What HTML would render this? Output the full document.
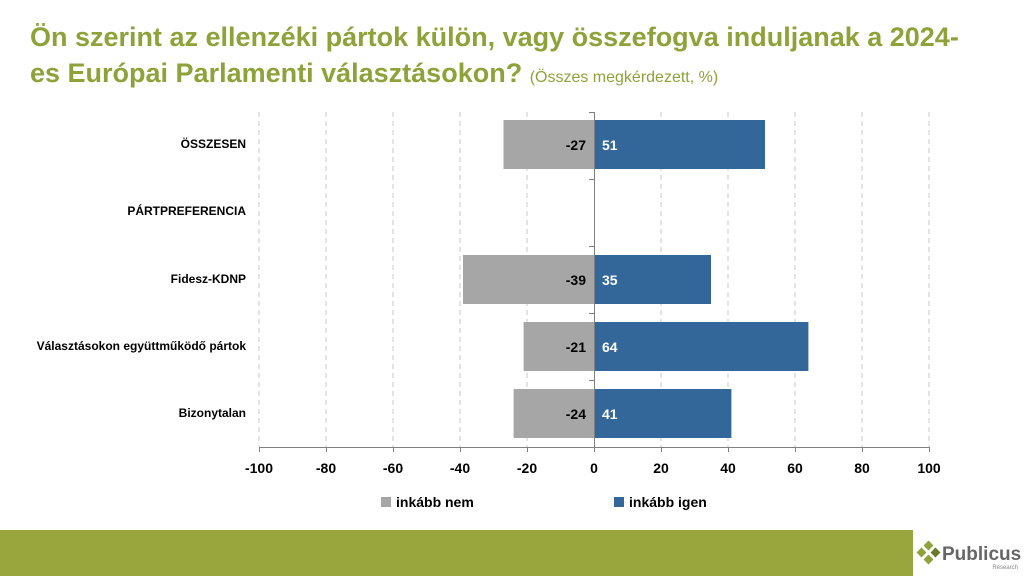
<!DOCTYPE html>
<html><head><meta charset="utf-8"><style>
body{margin:0;width:1024px;height:576px;overflow:hidden;background:#fff;font-family:"Liberation Sans",Arial,sans-serif;}
</style></head><body>
<svg width="1024" height="576" xmlns="http://www.w3.org/2000/svg" font-family="Liberation Sans, Arial, sans-serif">
<text x="30" y="46" font-size="27" font-weight="bold" fill="#8fa23a">Ön szerint az ellenzéki pártok külön, vagy összefogva induljanak a 2024-</text>
<text x="30" y="82" font-size="27" font-weight="bold" fill="#8fa23a">es Európai Parlamenti választásokon? <tspan font-size="16" font-weight="normal">(Összes megkérdezett, %)</tspan></text>
<g stroke="#c8c8c8" stroke-dasharray="5,4" stroke-width="1">
<line x1="259" y1="112" x2="259" y2="447"/><line x1="326" y1="112" x2="326" y2="447"/><line x1="393" y1="112" x2="393" y2="447"/><line x1="460" y1="112" x2="460" y2="447"/><line x1="527" y1="112" x2="527" y2="447"/><line x1="661" y1="112" x2="661" y2="447"/><line x1="728" y1="112" x2="728" y2="447"/><line x1="795" y1="112" x2="795" y2="447"/><line x1="862" y1="112" x2="862" y2="447"/><line x1="929" y1="112" x2="929" y2="447"/>
</g>
<g>
<rect x="503.5" y="120" width="90.5" height="49" fill="#a6a6a6"/><rect x="594" y="120" width="171" height="49" fill="#336699"/>
<rect x="463" y="255" width="131" height="49" fill="#a6a6a6"/><rect x="594" y="255" width="117" height="49" fill="#336699"/>
<rect x="523.6" y="322" width="70.4" height="49" fill="#a6a6a6"/><rect x="594" y="322" width="214.4" height="49" fill="#336699"/>
<rect x="513.6" y="389" width="80.4" height="49" fill="#a6a6a6"/><rect x="594" y="389" width="137.4" height="49" fill="#336699"/>
</g>
<g stroke="#808080" stroke-width="1">
<line x1="594.5" y1="112" x2="594.5" y2="447"/><line x1="259" y1="447.5" x2="929" y2="447.5"/>
<line x1="589" y1="112.5" x2="594" y2="112.5"/><line x1="589" y1="179.5" x2="594" y2="179.5"/><line x1="589" y1="246.5" x2="594" y2="246.5"/><line x1="589" y1="313.5" x2="594" y2="313.5"/><line x1="589" y1="380.5" x2="594" y2="380.5"/>
<line x1="259.5" y1="447" x2="259.5" y2="452"/><line x1="326.5" y1="447" x2="326.5" y2="452"/><line x1="393.5" y1="447" x2="393.5" y2="452"/><line x1="460.5" y1="447" x2="460.5" y2="452"/><line x1="527.5" y1="447" x2="527.5" y2="452"/><line x1="594.5" y1="447" x2="594.5" y2="452"/><line x1="661.5" y1="447" x2="661.5" y2="452"/><line x1="728.5" y1="447" x2="728.5" y2="452"/><line x1="795.5" y1="447" x2="795.5" y2="452"/><line x1="862.5" y1="447" x2="862.5" y2="452"/><line x1="929.5" y1="447" x2="929.5" y2="452"/>
</g>
<g font-size="14" font-weight="bold">
<g text-anchor="end" fill="#000"><text x="586" y="150">-27</text><text x="586" y="285">-39</text><text x="586" y="352">-21</text><text x="586" y="419">-24</text></g>
<g fill="#fff"><text x="602" y="150">51</text><text x="602" y="285">35</text><text x="602" y="352">64</text><text x="602" y="419">41</text></g>
</g>
<g font-size="12" font-weight="bold" text-anchor="end" fill="#000">
<text x="246" y="148">ÖSSZESEN</text><text x="246" y="215">PÁRTPREFERENCIA</text><text x="246" y="283">Fidesz-KDNP</text><text x="246" y="350">Választásokon együttműködő pártok</text><text x="246" y="417">Bizonytalan</text>
</g>
<g font-size="14" font-weight="bold" text-anchor="middle" fill="#000">
<text x="259" y="473">-100</text><text x="326" y="473">-80</text><text x="393" y="473">-60</text><text x="460" y="473">-40</text><text x="527" y="473">-20</text><text x="594" y="473">0</text><text x="661" y="473">20</text><text x="728" y="473">40</text><text x="795" y="473">60</text><text x="862" y="473">80</text><text x="929" y="473">100</text>
</g>
<rect x="381" y="497" width="10" height="10" fill="#a6a6a6"/><text x="396" y="507" font-size="14" font-weight="bold">inkább nem</text>
<rect x="614" y="497" width="10" height="10" fill="#336699"/><text x="629" y="507" font-size="14" font-weight="bold">inkább igen</text>
<rect x="0" y="530" width="913" height="46" fill="#98a63d"/>
<g fill="#8fa23a"><rect x="925" y="542" width="7" height="7" transform="rotate(45 928.5 545.5)"/><rect x="918" y="549" width="7" height="7" transform="rotate(45 921.5 552.5)"/><rect x="932" y="549" width="7" height="7" transform="rotate(45 935.5 552.5)" fill="#6a7a2a"/><rect x="925" y="556" width="7" height="7" transform="rotate(45 928.5 559.5)"/></g>
<text x="942" y="560" font-size="19" font-weight="bold" fill="#666">Publicus</text>
<text x="1018" y="569" font-size="6" text-anchor="end" fill="#888">Research</text>
</svg>
</body></html>
